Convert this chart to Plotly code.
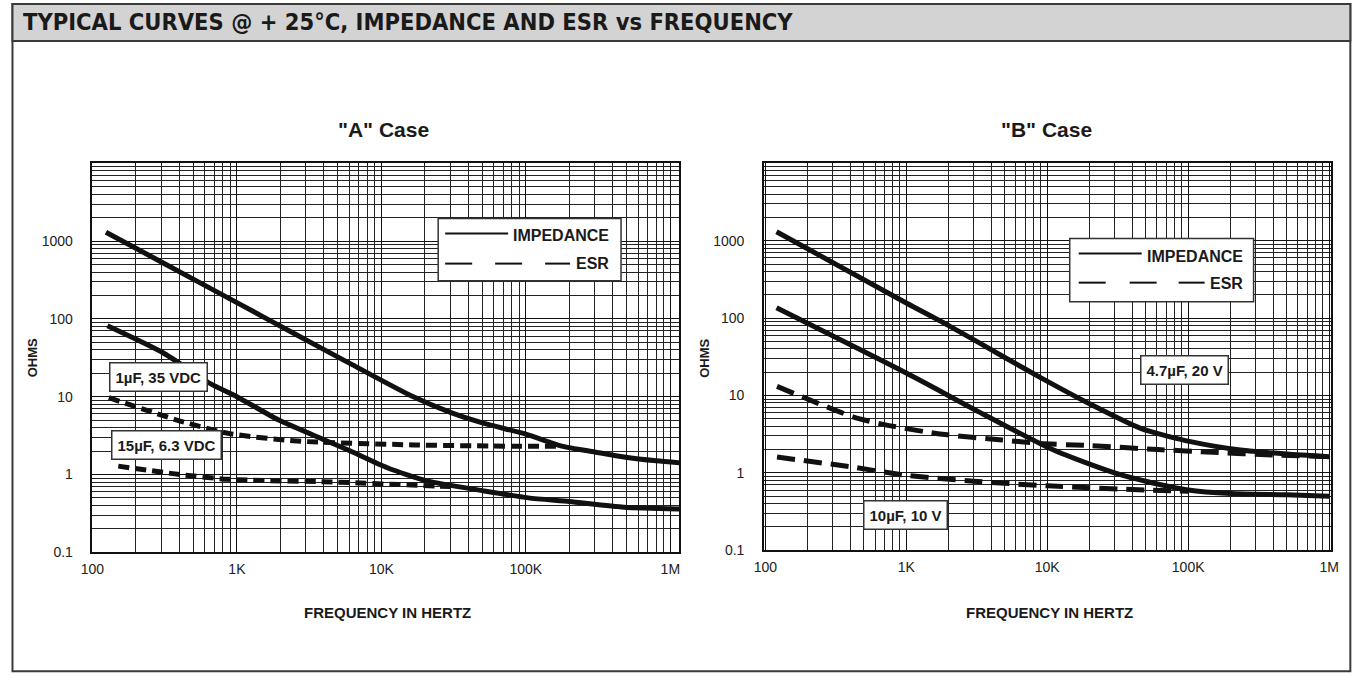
import plotly.graph_objects as go

W, H = 1359, 680
# compensation for the photograph (page is fitted into 1359x680)
S = 0.986
OFF = (W - W * S) / 2

# ---------------- data ----------------
# "A" Case
A_imp_1uF_f = [124, 300, 1000, 2600, 6000, 16200, 30000, 50000, 100000, 177000, 300000, 478000, 800000, 1200000]
A_imp_1uF_z = [1303, 540, 162, 62, 27, 10.2, 6.3, 4.6, 3.3, 2.32, 1.95, 1.68, 1.5, 1.41]
A_imp_15uF_f = [127, 306, 660, 1000, 1950, 4000, 6100, 11000, 21000, 50000, 104000, 200000, 478000, 1200000]
A_imp_15uF_z = [81.7, 37, 14.6, 10, 5.0, 2.8, 2.0, 1.22, 0.82, 0.62, 0.5, 0.45, 0.38, 0.36]
A_esr_1uF_f = [130, 400, 890, 2600, 16700, 60000, 177000]
A_esr_1uF_z = [9.7, 4.9, 3.35, 2.69, 2.4, 2.32, 2.3]
A_esr_15uF_f = [151, 400, 880, 4600, 24000, 30000]
A_esr_15uF_z = [1.28, 1.0, 0.865, 0.8, 0.71, 0.7]

# "B" Case
B_imp_47uF_f = [120, 1000, 2000, 5000, 9100, 20600, 46000, 104000, 235000, 500000, 1000000]
B_imp_47uF_z = [1309, 157, 80, 31, 16.8, 7.6, 3.76, 2.53, 1.97, 1.75, 1.62]
B_imp_10uF_f = [120, 1000, 3300, 10500, 20000, 33000, 50000, 100000, 200000, 500000, 1000000]
B_imp_10uF_z = [136, 19.5, 6.1, 2.07, 1.3, 0.95, 0.78, 0.6, 0.54, 0.52, 0.5]
B_esr_47uF_f = [121, 418, 700, 1800, 4800, 8900, 20000, 61000, 150000, 400000, 1000000]
B_esr_47uF_z = [13.1, 5.3, 4.2, 3.15, 2.66, 2.4, 2.25, 2.0, 1.85, 1.7, 1.62]
B_esr_10uF_f = [121, 400, 1000, 3000, 10000, 50000, 100000]
B_esr_10uF_z = [1.6, 1.2, 0.93, 0.78, 0.68, 0.6, 0.58]

x_tickvals = [100, 1000, 10000, 100000, 1000000]
x_ticktext = ["100", "1K", "10K", "100K", "1M"]
y_tickvals = [0.1, 1, 10, 100, 1000]
y_ticktext = ["0.1", "1", "10", "100", "1000"]

x_minor = [d * 10 ** k for k in range(2, 7) for d in range(2, 10)]
y_minor = [d * 10.0 ** k for k in range(-1, 4) for d in range(2, 10)]

TITLE = "TYPICAL CURVES @ + 25°C, IMPEDANCE AND ESR vs FREQUENCY"

FONT = "Liberation Sans, Arial, Helvetica, sans-serif"
NARROW = "Liberation Sans Narrow, Arial Narrow, DejaVu Sans Condensed, sans-serif"
INK = "#111111"


def px(x):
    return min(max((x - OFF) / (W * S), 0.0), 0.9995)


def py(y):
    return min(max(1 - y / (H * S), 0.001), 1.0)


fig = go.Figure()

solid = dict(color=INK, width=5, shape="spline", smoothing=0.6)
dashA = dict(color=INK, width=5, shape="spline", smoothing=0.6, dash="11px,6px")
dashB = dict(color=INK, width=5, shape="spline", smoothing=0.6, dash="18px,9px")

for f, z, ln in [(A_imp_1uF_f, A_imp_1uF_z, solid), (A_imp_15uF_f, A_imp_15uF_z, solid),
                 (A_esr_1uF_f, A_esr_1uF_z, dashA), (A_esr_15uF_f, A_esr_15uF_z, dashA)]:
    fig.add_trace(go.Scatter(x=f, y=z, mode="lines", line=ln, xaxis="x", yaxis="y",
                             showlegend=False, hoverinfo="x+y"))
for f, z, ln in [(B_imp_47uF_f, B_imp_47uF_z, solid), (B_imp_10uF_f, B_imp_10uF_z, solid),
                 (B_esr_47uF_f, B_esr_47uF_z, dashB), (B_esr_10uF_f, B_esr_10uF_z, dashB)]:
    fig.add_trace(go.Scatter(x=f, y=z, mode="lines", line=ln, xaxis="x2", yaxis="y2",
                             showlegend=False, hoverinfo="x+y"))


def xaxis(domain, rng, anchor):
    return dict(type="log", domain=domain, range=rng, anchor=anchor,
                tickmode="array", tickvals=x_tickvals, ticktext=x_ticktext,
                showgrid=True, gridcolor=INK, gridwidth=1,
                minor=dict(tickmode="array", tickvals=x_minor, showgrid=True,
                           gridcolor="#222222", gridwidth=1, ticks=""),
                showline=True, linecolor=INK, linewidth=1.5, mirror=True,
                ticks="", ticklabelstandoff=3, zeroline=False,
                tickfont=dict(family=FONT, size=14, color="#222222"))


def yaxis(domain, anchor):
    return dict(type="log", domain=domain, range=[-1, 4], anchor=anchor,
                tickmode="array", tickvals=y_tickvals, ticktext=y_ticktext,
                showgrid=True, gridcolor=INK, gridwidth=1,
                minor=dict(tickmode="array", tickvals=y_minor, showgrid=True,
                           gridcolor="#222222", gridwidth=1, ticks=""),
                showline=True, linecolor=INK, linewidth=1.5, mirror=True,
                ticks="", ticklabelstandoff=15, zeroline=False,
                tickfont=dict(family=FONT, size=14, color="#222222"))


fig.update_layout(
    autosize=True,
    margin=dict(l=0, r=0, t=0, b=0),
    paper_bgcolor="white", plot_bgcolor="white",
    font=dict(family=FONT, color=INK),
    xaxis=xaxis([px(90), px(677)], [2.0, 6.06], "y"),
    yaxis=yaxis([py(551), py(163)], "x"),
    xaxis2=xaxis([px(762), px(1329)], [1.99, 6.01], "y2"),
    yaxis2=yaxis([py(549), py(163)], "x2"),
)

shapes = []
# outer frame and header band
shapes.append(dict(type="rect", xref="paper", yref="paper", x0=px(10), x1=px(1354), y0=py(677), y1=py(4),
                   line=dict(color="#3a3a3a", width=2), fillcolor="rgba(0,0,0,0)", layer="above"))
shapes.append(dict(type="rect", xref="paper", yref="paper", x0=px(10), x1=px(1354), y0=py(41), y1=py(4),
                   line=dict(color="#3a3a3a", width=2), fillcolor="#d3d3d3", layer="above"))

# legend boxes (decoration)
for (bx0, by0, bx1, by1, ly1, ly2, dashes) in [
    (436, 218, 619, 280, 233, 263, [(443, 470), (493, 520), (543, 568)]),
    (1068, 238, 1252, 301, 253, 282, [(1077, 1104), (1128, 1155), (1177, 1203)]),
]:
    shapes.append(dict(type="rect", xref="paper", yref="paper", x0=px(bx0), x1=px(bx1), y0=py(by1), y1=py(by0),
                       line=dict(color="#333333", width=1.5), fillcolor="white", layer="above"))
    shapes.append(dict(type="line", xref="paper", yref="paper", x0=px(dashes[0][0]), x1=px(dashes[0][0] + 63),
                       y0=py(ly1), y1=py(ly1), line=dict(color=INK, width=2), layer="above"))
    for a, b in dashes:
        shapes.append(dict(type="line", xref="paper", yref="paper", x0=px(a), x1=px(b),
                           y0=py(ly2), y1=py(ly2), line=dict(color=INK, width=2), layer="above"))

fig.update_layout(shapes=shapes)

ann = []
ann.append(dict(text="<b>" + TITLE + "</b>", xref="paper", yref="paper", x=px(19), y=py(22), xanchor="left",
                yanchor="middle", showarrow=False, font=dict(family=NARROW, size=23.5, color="#1a1a1a")))
for txt, cx in [('<b>"A" Case</b>', 381), ('<b>"B" Case</b>', 1045)]:
    ann.append(dict(text=txt, xref="paper", yref="paper", x=px(cx), y=py(129), xanchor="center", yanchor="middle",
                    showarrow=False, font=dict(family=FONT, size=21, color="#1a1a1a")))
for cx in [385, 1048]:
    ann.append(dict(text="<b>FREQUENCY IN HERTZ</b>", xref="paper", yref="paper", x=px(cx), y=py(611),
                    xanchor="center", yanchor="middle", showarrow=False,
                    font=dict(family=FONT, size=15, color="#1a1a1a")))
for cx in [30, 703]:
    ann.append(dict(text="<b>OHMS</b>", xref="paper", yref="paper", x=px(cx), y=py(357), textangle=-90,
                    xanchor="center", yanchor="middle", showarrow=False,
                    font=dict(family=FONT, size=13, color="#1a1a1a")))
# legend texts
for rx, y1, y2 in [(609, 235, 263), (1243, 256, 283)]:
    ann.append(dict(text="<b>IMPEDANCE</b>", xref="paper", yref="paper", x=px(rx), y=py(y1), xanchor="right",
                    yanchor="middle", showarrow=False, font=dict(family=FONT, size=16, color="#1a1a1a")))
    ann.append(dict(text="<b>ESR</b>", xref="paper", yref="paper", x=px(rx), y=py(y2), xanchor="right",
                    yanchor="middle", showarrow=False, font=dict(family=FONT, size=16, color="#1a1a1a")))
# curve labels
for txt, cx, cy in [("<b>1µF, 35 VDC</b>", 156.5, 376), ("<b>15µF, 6.3 VDC</b>", 164, 444),
                    ("<b>4.7µF, 20 V</b>", 1183, 369), ("<b>10µF, 10 V</b>", 904, 514)]:
    ann.append(dict(text=txt, xref="paper", yref="paper", x=px(cx), y=py(cy), xanchor="center", yanchor="middle",
                    showarrow=False, bgcolor="white", bordercolor="#333333", borderwidth=1.5, borderpad=5,
                    font=dict(family=FONT, size=15, color="#1a1a1a")))
fig.update_layout(annotations=ann)

post = (
    "document.documentElement.style.overflow='hidden';"
    "document.body.style.margin='0';"
    "document.body.style.overflow='hidden';"
)
fig.write_html(
    "out.html",
    config={"displayModeBar": False, "responsive": True},
    default_width="100vw; position:fixed; left:0px; top:0px",
    default_height="100vh",
    post_script=post,
)
